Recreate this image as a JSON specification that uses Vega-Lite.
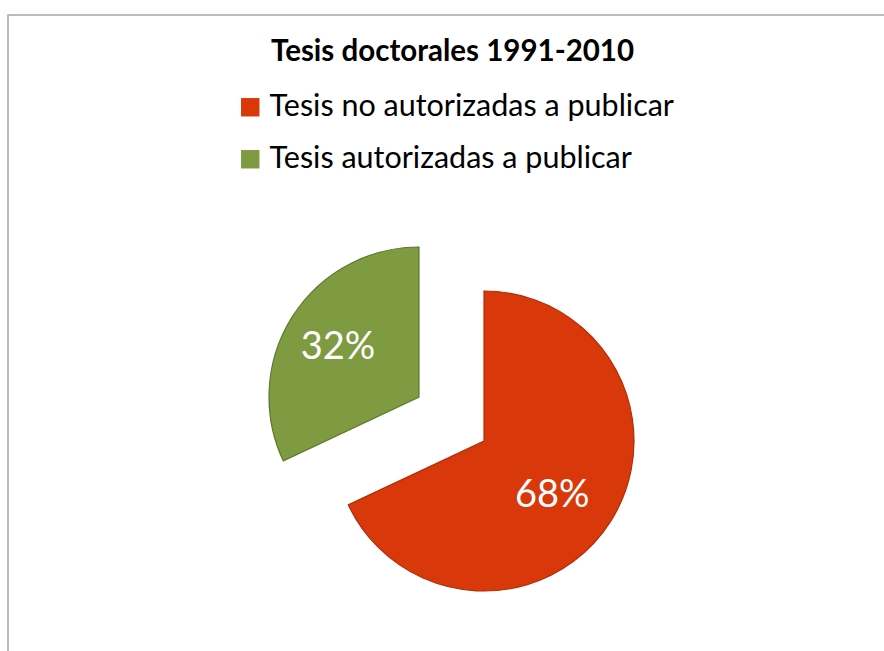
{
  "$schema": "https://vega.github.io/schema/vega-lite/v6.json",
  "width": 890,
  "height": 650,
  "autosize": "none",
  "padding": {"left": 8, "top": 15, "right": -14, "bottom": -14},
  "background": "white",
  "view": {"stroke": "#a6a6a6", "strokeWidth": 1.5},
  "config": {"view": {"stroke": "#a6a6a6", "strokeWidth": 1.5}, "font": "Lato"},
  "title": {
    "text": "Tesis doctorales 1991-2010",
    "font": "Lato",
    "fontSize": 29.5,
    "fontWeight": "bold",
    "color": "#000000",
    "anchor": "start",
    "frame": "group",
    "offset": -45,
    "baseline": "alphabetic",
    "dx": 263,
    "dy": 30
  },
  "data": {
    "values": [
      {"categoria": "Tesis no autorizadas a publicar", "valor": 0.68},
      {"categoria": "Tesis autorizadas a publicar", "valor": 0.32}
    ]
  },
  "encoding": {
    "theta": {"field": "valor", "type": "quantitative", "stack": true, "scale": {"domain": [0, 1]}},
    "order": {"field": "valor", "type": "quantitative", "sort": "descending"}
  },
  "layer": [
    {
      "mark": {"type": "arc", "outerRadius": 150, "xOffset": 31, "yOffset": 101, "stroke": "#b02f07", "strokeWidth": 1.2},
      "encoding": {
        "color": {
          "field": "categoria",
          "type": "nominal",
          "scale": {"domain": ["Tesis no autorizadas a publicar", "Tesis autorizadas a publicar"], "range": ["#D9390A", "#7E9B42"]},
          "legend": {
            "orient": "none",
            "legendX": 227,
            "legendY": 77,
            "direction": "vertical",
            "title": null,
            "labelFont": "Lato",
            "labelFontSize": 30.5,
            "labelColor": "#000000",
            "labelLimit": 600,
            "symbolType": "square",
            "symbolSize": 340,
            "symbolStrokeWidth": 0,
            "labelOffset": 4,
            "rowPadding": 21
          }
        },
        "opacity": {"condition": {"test": "datum.categoria === 'Tesis no autorizadas a publicar'", "value": 1}, "value": 0}
      }
    },
    {
      "mark": {"type": "arc", "outerRadius": 150, "xOffset": -34, "yOffset": 57, "stroke": "#5f7a2e", "strokeWidth": 1.2},
      "encoding": {
        "color": {"field": "categoria", "type": "nominal"},
        "opacity": {"condition": {"test": "datum.categoria === 'Tesis autorizadas a publicar'", "value": 1}, "value": 0}
      }
    },
    {
      "mark": {"type": "text", "radius": 88, "xOffset": 25, "yOffset": 109, "fontSize": 38, "font": "Lato", "color": "#ffffff"},
      "encoding": {
        "detail": {"field": "categoria", "type": "nominal"},
        "text": {"field": "valor", "type": "quantitative", "format": ".0%"},
        "opacity": {"condition": {"test": "datum.categoria === 'Tesis no autorizadas a publicar'", "value": 1}, "value": 0}
      }
    },
    {
      "mark": {"type": "text", "radius": 90, "xOffset": -39, "yOffset": 56, "fontSize": 38, "font": "Lato", "color": "#ffffff"},
      "encoding": {
        "detail": {"field": "categoria", "type": "nominal"},
        "text": {"field": "valor", "type": "quantitative", "format": ".0%"},
        "opacity": {"condition": {"test": "datum.categoria === 'Tesis autorizadas a publicar'", "value": 1}, "value": 0}
      }
    }
  ]
}
